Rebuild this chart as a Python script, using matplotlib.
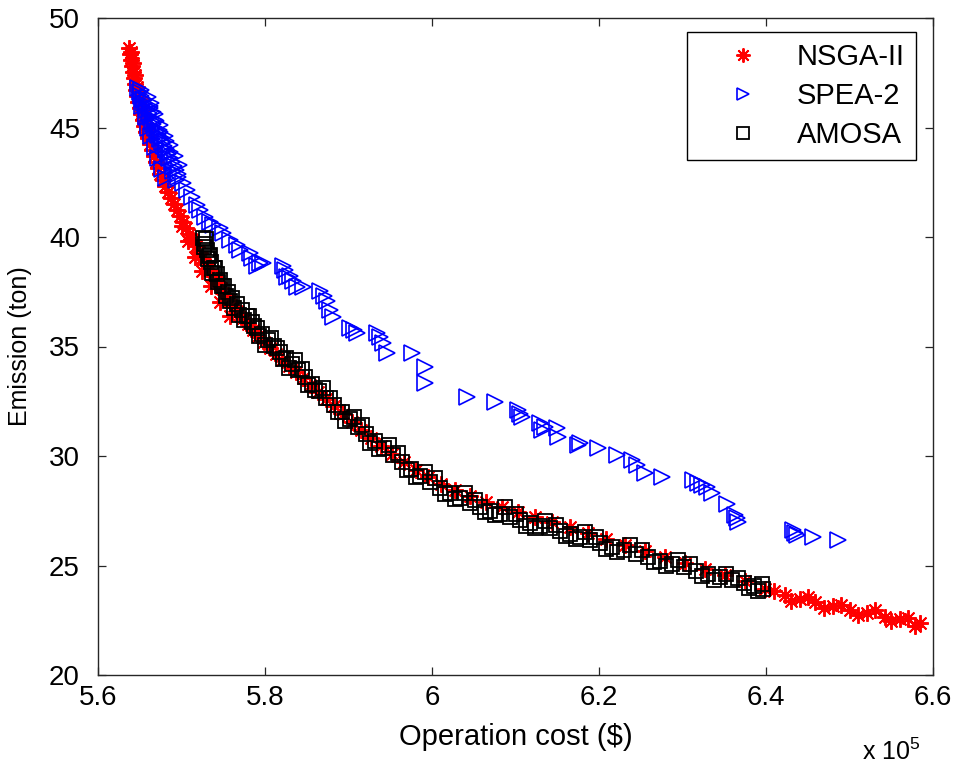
import matplotlib
matplotlib.use('Agg')
import matplotlib.pyplot as plt
from matplotlib.ticker import FuncFormatter, MultipleLocator

plt.rcParams['font.family'] = 'Liberation Sans'
plt.rcParams['mathtext.fontset'] = 'custom'
plt.rcParams['mathtext.rm'] = 'Liberation Sans'

# Pareto fronts: operation cost (x 10^5 $) vs emission (ton)
nsga_cost = [5.6371, 5.6383, 5.6395, 5.6407, 5.6419, 5.6431, 5.6443, 5.6455, 5.6467, 5.6479,
             5.6503, 5.6515, 5.6539, 5.6551, 5.6575, 5.6599, 5.6623, 5.6647, 5.6671, 5.6695,
             5.6719, 5.6743, 5.6778, 5.6802, 5.6838, 5.6874, 5.6910, 5.6946, 5.6982, 5.7018,
             5.7054, 5.7090, 5.7138, 5.7174, 5.7210, 5.7246, 5.7281, 5.7329, 5.7377, 5.7425,
             5.7473, 5.7521, 5.7569, 5.7629, 5.7677, 5.7737, 5.7796, 5.7856, 5.7916, 5.7988,
             5.8060, 5.8132, 5.8204, 5.8287, 5.8371, 5.8455, 5.8539, 5.8635, 5.8731, 5.8826,
             5.8934, 5.9042, 5.9150, 5.9269, 5.9389, 5.9521, 5.9665, 5.9808, 5.9952, 6.0108,
             6.0275, 6.0455, 6.0647, 6.0838, 6.1030, 6.1234, 6.1437, 6.1653, 6.1868, 6.2084,
             6.2311, 6.2551, 6.2790, 6.3030, 6.3269, 6.3509, 6.3749, 6.3988, 6.4228, 6.4407,
             6.4587, 6.4802, 6.5006, 6.5210, 6.5425, 6.5605, 6.5844,
             5.6390, 5.6420, 5.6440, 5.6470, 5.6500, 5.6530, 5.6560, 5.6600,
             5.7000, 5.7080, 5.7160, 5.7250, 5.7350, 5.7460, 5.7580,
             6.4100, 6.4300, 6.4500, 6.4700, 6.4900, 6.5100, 6.5300, 6.5500, 6.5700, 6.5780]
nsga_emis = [48.63, 48.36, 48.08, 47.81, 47.53, 47.26, 46.99, 46.71, 46.44, 46.16,
             45.89, 45.62, 45.34, 45.07, 44.79, 44.52, 44.25, 43.97, 43.70, 43.42,
             43.15, 42.88, 42.60, 42.33, 42.05, 41.78, 41.51, 41.23, 40.96, 40.68,
             40.41, 40.14, 39.86, 39.59, 39.32, 39.04, 38.77, 38.49, 38.22, 37.95,
             37.67, 37.40, 37.12, 36.85, 36.58, 36.30, 36.03, 35.75, 35.48, 35.21,
             34.93, 34.66, 34.38, 34.11, 33.84, 33.56, 33.24, 32.92, 32.60, 32.28,
             31.92, 31.55, 31.19, 30.82, 30.46, 30.09, 29.73, 29.36, 29.04, 28.72,
             28.45, 28.17, 27.90, 27.67, 27.44, 27.21, 26.99, 26.76, 26.48, 26.21,
             25.94, 25.66, 25.39, 25.11, 24.84, 24.57, 24.29, 23.93, 23.65, 23.47,
             23.33, 23.15, 22.97, 22.83, 22.65, 22.56, 22.37,
             48.45, 47.95, 47.40, 46.85, 46.30, 45.75, 45.20, 44.65,
             40.50, 39.80, 39.10, 38.45, 37.75, 37.05, 36.40,
             23.85, 23.40, 23.55, 23.05, 23.20, 22.75, 22.95, 22.45, 22.60, 22.25]

spea_cost = [5.6480, 5.6500, 5.6515, 5.6540, 5.6550, 5.6575, 5.6590, 5.6610, 5.6620, 5.6647,
             5.6660, 5.6680, 5.6707, 5.6720, 5.6740, 5.6766, 5.6790, 5.6814, 5.6840, 5.6860,
             5.6886, 5.6910, 5.6934, 5.6958, 5.6550, 5.6620, 5.6680, 5.6740, 5.6814, 5.6860,
             5.6620, 5.6680, 5.6740, 5.6800, 5.6860, 5.6920, 5.6970,
             5.6600, 5.6630, 5.6660, 5.6700, 5.6730, 5.6770, 5.6810, 5.6850, 5.6900, 5.6940,
             5.6510, 5.6530, 5.6570, 5.6600, 5.6640, 5.6680, 5.6720, 5.6770, 5.6820,
             5.6958, 5.7020, 5.7066, 5.7126, 5.7186, 5.7222, 5.7281, 5.7341, 5.7377, 5.7461,
             5.7497, 5.7581, 5.7665, 5.7701, 5.7820, 5.7844, 5.7904, 5.7940, 5.7976, 5.8216,
             5.8240, 5.8263, 5.8299, 5.8335, 5.8383, 5.8455, 5.8659, 5.8707, 5.8743, 5.8778,
             5.8814, 5.9018, 5.9066, 5.9102, 5.9341, 5.9377, 5.9413, 5.9461, 5.9760, 5.9916,
             5.9916, 6.0419, 6.0754, 6.1030, 6.1054, 6.1078, 6.1293, 6.1317, 6.1353, 6.1497,
             6.1509, 6.1749, 6.1772, 6.1988, 6.2216, 6.2395, 6.2455, 6.2551, 6.2754, 6.3126,
             6.3186, 6.3234, 6.3293, 6.3353, 6.3533, 6.3629, 6.3653, 6.3665, 6.4323, 6.4347,
             6.4371, 6.4563, 6.4862]
spea_emis = [46.80, 46.62, 46.44, 46.30, 46.12, 45.98, 45.80, 45.66, 45.48, 45.30,
             45.16, 44.98, 44.84, 44.66, 44.47, 44.34, 44.16, 43.97, 43.79, 43.61,
             43.42, 43.24, 43.06, 42.88, 46.26, 45.89, 45.34, 44.79, 44.38, 43.88,
             46.00, 45.60, 45.10, 44.60, 44.20, 43.70, 43.30,
             46.40, 46.10, 45.70, 45.30, 44.90, 44.50, 44.00, 43.60, 43.00, 42.60,
             46.70, 46.00, 45.50, 45.00, 44.60, 44.10, 43.60, 43.10, 42.70,
             42.74, 42.47, 42.15, 41.83, 41.46, 41.23, 40.91, 40.68, 40.55, 40.41,
             40.18, 39.86, 39.63, 39.41, 39.27, 39.04, 38.68, 38.81, 38.81, 38.68,
             38.49, 38.17, 38.22, 37.99, 37.72, 37.72, 37.53, 37.31, 37.08, 36.67,
             36.35, 35.84, 35.75, 35.62, 35.62, 35.43, 35.16, 34.70, 34.70, 34.06,
             33.33, 32.69, 32.47, 32.10, 31.92, 31.78, 31.51, 31.19, 31.32, 31.28,
             30.87, 30.50, 30.59, 30.37, 30.05, 29.82, 29.59, 29.22, 29.04, 28.90,
             28.77, 28.68, 28.58, 28.31, 27.81, 27.31, 27.17, 26.99, 26.62, 26.48,
             26.39, 26.30, 26.16]

amosa_cost = [5.7257, 5.7281, 5.7305, 5.7329, 5.7353, 5.7389, 5.7425, 5.7461, 5.7509, 5.7557,
              5.7605, 5.7665, 5.7725, 5.7784, 5.7844, 5.7904, 5.7964, 5.8036, 5.8108, 5.8180,
              5.8251, 5.8323, 5.8395, 5.8479, 5.8563, 5.8647, 5.8731, 5.8826, 5.8922, 5.9018,
              5.9114, 5.9210, 5.9317, 5.9425, 5.9533, 5.9641, 5.9748, 5.9856, 5.9976, 6.0096,
              6.0216, 6.0335, 6.0455, 6.0575, 6.0695, 6.0814, 6.0934, 6.1054, 6.1174, 6.1293,
              6.1413, 6.1533, 6.1653, 6.1772, 6.1892, 6.2012, 6.2156, 6.2299, 6.2443, 6.2587,
              6.2731, 6.2874, 6.3018, 6.3162, 6.3305, 6.3449, 6.3593, 6.3737, 6.3856, 6.3964,
              5.7290, 5.7340, 5.7400, 5.7480, 5.7580, 5.7690, 5.7810, 5.7930, 5.8070, 5.8210,
              5.8360, 5.8520, 5.8690, 5.8870, 5.9060, 5.9260, 5.9480, 5.9700, 5.9920, 6.0150,
              6.0400, 6.0630, 6.0880, 6.1120, 6.1350, 6.1600, 6.1830, 6.2080, 6.2370, 6.2660,
              6.2950, 6.3230, 6.3520, 6.3800, 6.3950,
              5.7275, 5.7320, 5.7370, 5.7440, 5.7530, 5.7630, 5.7750, 5.7870, 5.8000, 5.8140,
              5.8290, 5.8440, 5.8600, 5.8780, 5.8960, 5.9160, 5.9370, 5.9590, 5.9810, 6.0040,
              6.0270, 6.0520, 6.0750, 6.1000, 6.1230, 6.1480, 6.1720, 6.1960, 6.2220, 6.2510,
              6.2800, 6.3090, 6.3380, 6.3660, 6.3900]
amosa_emis = [39.95, 39.68, 39.41, 39.13, 38.86, 38.58, 38.31, 38.04, 37.76, 37.49,
              37.21, 36.94, 36.67, 36.39, 36.12, 35.84, 35.57, 35.30, 35.02, 34.75,
              34.48, 34.20, 33.93, 33.61, 33.29, 32.97, 32.65, 32.33, 32.01, 31.69,
              31.32, 31.00, 30.68, 30.37, 30.05, 29.73, 29.41, 29.09, 28.81, 28.54,
              28.31, 28.08, 27.85, 27.67, 27.49, 27.35, 27.21, 27.08, 26.94, 26.80,
              26.71, 26.58, 26.44, 26.30, 26.16, 26.03, 25.84, 25.71, 25.53, 25.39,
              25.21, 25.07, 24.93, 24.75, 24.61, 24.47, 24.34, 24.20, 24.06, 23.93,
              39.90, 39.20, 38.60, 37.75, 37.10, 36.45, 36.40, 35.50, 35.40, 34.45,
              34.40, 33.25, 33.10, 32.00, 31.80, 30.60, 30.50, 29.35, 29.25, 28.25,
              28.30, 27.45, 27.65, 26.80, 27.05, 26.35, 26.55, 25.75, 25.95, 25.15,
              25.25, 24.50, 24.60, 23.95, 24.15,
              39.55, 39.00, 38.35, 37.95, 37.30, 36.75, 36.20, 35.95, 35.05, 34.95,
              34.00, 33.95, 33.00, 32.65, 31.60, 31.40, 30.30, 30.15, 29.05, 29.00,
              28.05, 28.00, 27.30, 27.35, 26.70, 26.85, 26.20, 26.30, 25.60, 25.70,
              25.00, 25.05, 24.35, 24.45, 23.85]

fig = plt.figure(figsize=(9.58, 7.69), dpi=100)
ax = fig.add_axes([98 / 958, 1 - 675 / 769, 835 / 958, 657 / 769])

ax.plot(nsga_cost, nsga_emis, linestyle='none', marker=(8, 2, 0), markersize=12,
        markeredgewidth=1.4, color='#ff0000', label='NSGA-II')
ax.plot(spea_cost, spea_emis, linestyle='none', marker='>', markersize=11,
        markerfacecolor='none', markeredgewidth=1.2, color='#0000ff', label='SPEA-2')
ax.plot(amosa_cost, amosa_emis, linestyle='none', marker='s', markersize=10,
        markerfacecolor='none', markeredgewidth=1.3, color='black', label='AMOSA')

ax.set_xlim(5.6, 6.6)
ax.set_ylim(20, 50)
ax.xaxis.set_major_locator(MultipleLocator(0.2))
ax.yaxis.set_major_locator(MultipleLocator(5))
ax.xaxis.set_major_formatter(FuncFormatter(lambda v, p: '%g' % round(v, 2)))

for s in ax.spines.values():
    s.set_linewidth(1.0)
    s.set_color('#262626')

ax.tick_params(direction='in', length=6, width=0.9, top=True, right=True,
               labelsize=20, colors='#262626', labelcolor='black')
ax.tick_params(axis='y', pad=13)
ax.tick_params(axis='x', pad=7)

ax.set_xlabel('Operation cost ($)', fontsize=21, labelpad=9)
ax.set_ylabel('Emission (ton)', fontsize=18, labelpad=12)

fig.text(862 / 958, 1 - 752 / 769, r'x 10$^{5}$', fontsize=18, ha='left', va='center')

leg = ax.legend(loc='upper right', bbox_to_anchor=(0.9796, 0.9787), borderaxespad=0,
                fontsize=21, frameon=True, fancybox=False, framealpha=1,
                edgecolor='black', borderpad=0.38, handlelength=3.1,
                handletextpad=0.3, labelspacing=0.38, markerscale=0.85)
leg.get_frame().set_linewidth(1.0)

fig.savefig('out.png', dpi=100, facecolor='white')
